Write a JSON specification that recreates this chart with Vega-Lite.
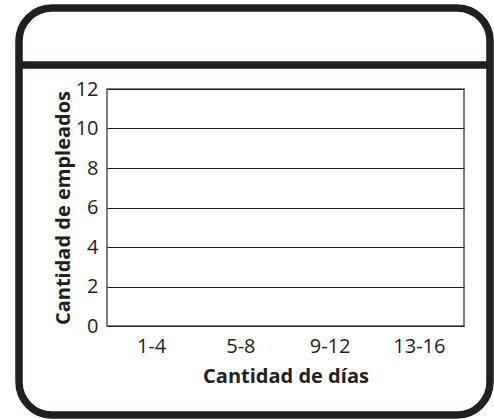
{
  "$schema": "https://vega.github.io/schema/vega-lite/v6.json",
  "width": 357,
  "height": 237,
  "autosize": "none",
  "padding": {"left": 107, "top": 89, "right": 30, "bottom": 93},
  "background": "white",
  "config": {
    "view": {"stroke": "#555555", "strokeWidth": 1.5},
    "font": "Open Sans",
    "axis": {
      "labelFont": "Open Sans",
      "titleFont": "Open Sans",
      "labelColor": "#231f20",
      "titleColor": "#231f20",
      "labelFontSize": 20,
      "titleFontSize": 20,
      "titleFontWeight": "bold",
      "domain": false,
      "ticks": false
    }
  },
  "layer": [
    {
      "data": {"values": [{}]},
      "mark": {"type": "rect", "fill": null, "stroke": "#231f20", "strokeWidth": 7.5, "cornerRadius": 33},
      "encoding": {
        "x": {"value": -88},
        "x2": {"value": 383},
        "y": {"value": -81},
        "y2": {"value": 326}
      }
    },
    {
      "data": {"values": [{}]},
      "mark": {"type": "rule", "stroke": "#231f20", "strokeWidth": 7.5},
      "encoding": {
        "x": {"value": -88},
        "x2": {"value": 383},
        "y": {"value": -24}
      }
    },
    {
      "data": {
        "values": [
          {"dias": "1-4", "empleados": null},
          {"dias": "5-8", "empleados": null},
          {"dias": "9-12", "empleados": null},
          {"dias": "13-16", "empleados": null}
        ]
      },
      "mark": {"type": "bar", "color": "#888888"},
      "encoding": {
        "x": {
          "field": "dias",
          "type": "ordinal",
          "sort": null,
          "scale": {"domain": ["1-4", "5-8", "9-12", "13-16"], "paddingInner": 0, "paddingOuter": 0},
          "axis": {"title": "Cantidad de días", "labelAngle": 0, "labelPadding": 10, "titlePadding": 10, "grid": false}
        },
        "y": {
          "field": "empleados",
          "type": "quantitative",
          "scale": {"domain": [0, 12], "nice": false},
          "axis": {
            "title": "Cantidad de empleados",
            "values": [0, 2, 4, 6, 8, 10, 12],
            "grid": true,
            "gridColor": "#231f20",
            "gridWidth": 1,
            "gridOpacity": 1,
            "labelPadding": 9,
            "titlePadding": 2
          }
        }
      }
    }
  ]
}
